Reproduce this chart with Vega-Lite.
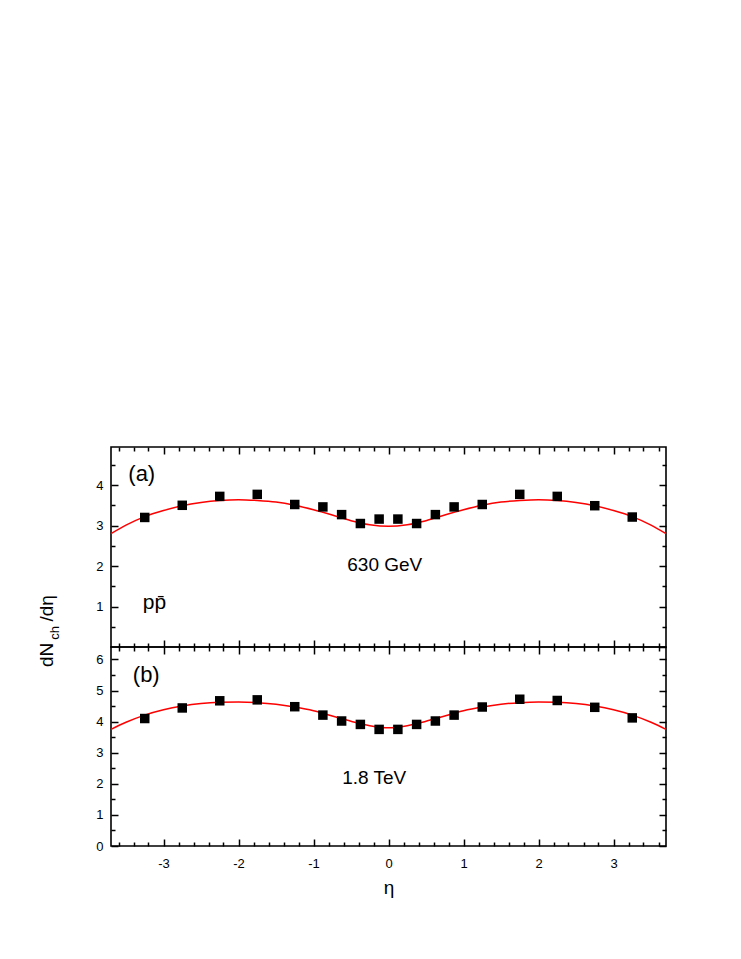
{
  "$schema": "https://vega.github.io/schema/vega-lite/v6.json",
  "background": "white",
  "padding": {"left": 37, "top": 445, "right": 5, "bottom": 5},
  "spacing": 0,
  "bounds": "flush",
  "config": {
    "view": {"stroke": "black", "strokeWidth": 1.6},
    "axis": {"domain": false, "grid": false, "tickColor": "black", "tickWidth": 1.5, "labelColor": "black", "labelFont": "Liberation Sans", "labelFontSize": 13, "titleFont": "Liberation Sans", "titleColor": "black", "titleFontWeight": "normal"},
    "text": {"font": "Liberation Sans", "color": "black"}
  },
  "datasets": {
    "pts": [
      {"panel": "a", "eta": -3.25, "v": 3.20}, {"panel": "a", "eta": -2.75, "v": 3.50}, {"panel": "a", "eta": -2.25, "v": 3.72}, {"panel": "a", "eta": -1.75, "v": 3.77}, {"panel": "a", "eta": -1.25, "v": 3.52}, {"panel": "a", "eta": -0.875, "v": 3.46}, {"panel": "a", "eta": -0.625, "v": 3.27}, {"panel": "a", "eta": -0.375, "v": 3.05}, {"panel": "a", "eta": -0.125, "v": 3.16},
      {"panel": "a", "eta": 0.125, "v": 3.16}, {"panel": "a", "eta": 0.375, "v": 3.05}, {"panel": "a", "eta": 0.625, "v": 3.27}, {"panel": "a", "eta": 0.875, "v": 3.46}, {"panel": "a", "eta": 1.25, "v": 3.52}, {"panel": "a", "eta": 1.75, "v": 3.77}, {"panel": "a", "eta": 2.25, "v": 3.72}, {"panel": "a", "eta": 2.75, "v": 3.49}, {"panel": "a", "eta": 3.25, "v": 3.21},
      {"panel": "b", "eta": -3.25, "v": 4.10}, {"panel": "b", "eta": -2.75, "v": 4.44}, {"panel": "b", "eta": -2.25, "v": 4.67}, {"panel": "b", "eta": -1.75, "v": 4.70}, {"panel": "b", "eta": -1.25, "v": 4.48}, {"panel": "b", "eta": -0.875, "v": 4.21}, {"panel": "b", "eta": -0.625, "v": 4.02}, {"panel": "b", "eta": -0.375, "v": 3.91}, {"panel": "b", "eta": -0.125, "v": 3.75},
      {"panel": "b", "eta": 0.125, "v": 3.75}, {"panel": "b", "eta": 0.375, "v": 3.91}, {"panel": "b", "eta": 0.625, "v": 4.02}, {"panel": "b", "eta": 0.875, "v": 4.21}, {"panel": "b", "eta": 1.25, "v": 4.47}, {"panel": "b", "eta": 1.75, "v": 4.72}, {"panel": "b", "eta": 2.25, "v": 4.68}, {"panel": "b", "eta": 2.75, "v": 4.46}, {"panel": "b", "eta": 3.25, "v": 4.12}
    ],
    "curve": [
      {"panel": "a", "eta": -3.7, "v": 2.80}, {"panel": "a", "eta": -3.5, "v": 3.01}, {"panel": "a", "eta": -3.25, "v": 3.22}, {"panel": "a", "eta": -3.0, "v": 3.37}, {"panel": "a", "eta": -2.75, "v": 3.49}, {"panel": "a", "eta": -2.5, "v": 3.57}, {"panel": "a", "eta": -2.25, "v": 3.62}, {"panel": "a", "eta": -2.0, "v": 3.64}, {"panel": "a", "eta": -1.75, "v": 3.62}, {"panel": "a", "eta": -1.5, "v": 3.58}, {"panel": "a", "eta": -1.25, "v": 3.50}, {"panel": "a", "eta": -1.0, "v": 3.39}, {"panel": "a", "eta": -0.75, "v": 3.26}, {"panel": "a", "eta": -0.5, "v": 3.12}, {"panel": "a", "eta": -0.25, "v": 3.02}, {"panel": "a", "eta": 0, "v": 2.98},
      {"panel": "a", "eta": 0.25, "v": 3.02}, {"panel": "a", "eta": 0.5, "v": 3.12}, {"panel": "a", "eta": 0.75, "v": 3.26}, {"panel": "a", "eta": 1.0, "v": 3.39}, {"panel": "a", "eta": 1.25, "v": 3.50}, {"panel": "a", "eta": 1.5, "v": 3.58}, {"panel": "a", "eta": 1.75, "v": 3.62}, {"panel": "a", "eta": 2.0, "v": 3.64}, {"panel": "a", "eta": 2.25, "v": 3.62}, {"panel": "a", "eta": 2.5, "v": 3.57}, {"panel": "a", "eta": 2.75, "v": 3.49}, {"panel": "a", "eta": 3.0, "v": 3.37}, {"panel": "a", "eta": 3.25, "v": 3.22}, {"panel": "a", "eta": 3.5, "v": 3.01}, {"panel": "a", "eta": 3.7, "v": 2.80},
      {"panel": "b", "eta": -3.7, "v": 3.75}, {"panel": "b", "eta": -3.5, "v": 3.98}, {"panel": "b", "eta": -3.25, "v": 4.21}, {"panel": "b", "eta": -3.0, "v": 4.38}, {"panel": "b", "eta": -2.75, "v": 4.50}, {"panel": "b", "eta": -2.5, "v": 4.58}, {"panel": "b", "eta": -2.25, "v": 4.62}, {"panel": "b", "eta": -2.0, "v": 4.63}, {"panel": "b", "eta": -1.75, "v": 4.61}, {"panel": "b", "eta": -1.5, "v": 4.56}, {"panel": "b", "eta": -1.25, "v": 4.47}, {"panel": "b", "eta": -1.0, "v": 4.35}, {"panel": "b", "eta": -0.75, "v": 4.18}, {"panel": "b", "eta": -0.5, "v": 4.01}, {"panel": "b", "eta": -0.25, "v": 3.87}, {"panel": "b", "eta": 0, "v": 3.80},
      {"panel": "b", "eta": 0.25, "v": 3.87}, {"panel": "b", "eta": 0.5, "v": 4.01}, {"panel": "b", "eta": 0.75, "v": 4.18}, {"panel": "b", "eta": 1.0, "v": 4.35}, {"panel": "b", "eta": 1.25, "v": 4.47}, {"panel": "b", "eta": 1.5, "v": 4.56}, {"panel": "b", "eta": 1.75, "v": 4.61}, {"panel": "b", "eta": 2.0, "v": 4.63}, {"panel": "b", "eta": 2.25, "v": 4.62}, {"panel": "b", "eta": 2.5, "v": 4.58}, {"panel": "b", "eta": 2.75, "v": 4.50}, {"panel": "b", "eta": 3.0, "v": 4.38}, {"panel": "b", "eta": 3.25, "v": 4.21}, {"panel": "b", "eta": 3.5, "v": 3.98}, {"panel": "b", "eta": 3.7, "v": 3.75}
    ]
  },
  "vconcat": [
    {
      "width": 555,
      "height": 200,
      "resolve": {"axis": {"x": "independent", "y": "independent"}},
      "layer": [
        {
          "data": {"name": "curve"},
          "transform": [{"filter": "datum.panel === 'a'"}],
          "mark": {"type": "line", "color": "#ff0000", "strokeWidth": 1.5, "interpolate": "monotone"},
          "encoding": {
            "x": {"field": "eta", "type": "quantitative", "scale": {"domain": [-3.7, 3.7], "nice": false, "zero": false},
                  "axis": {"orient": "top", "title": null, "labels": false, "values": [-3,-2,-1,0,1,2,3], "tickSize": -7}},
            "y": {"field": "v", "type": "quantitative", "scale": {"domain": [0, 4.94], "nice": false, "zero": false},
                  "axis": {"orient": "right", "title": null, "labels": false, "values": [0,1,2,3,4], "tickSize": -7}}
          }
        },
        {
          "data": {"name": "pts"},
          "transform": [{"filter": "datum.panel === 'a'"}],
          "mark": {"type": "point", "shape": "square", "filled": true, "color": "black", "opacity": 1, "size": 90},
          "encoding": {
            "x": {"field": "eta", "type": "quantitative",
                  "axis": {"orient": "bottom", "title": null, "labels": false, "values": [-3,-2,-1,0,1,2,3], "tickSize": -7}},
            "y": {"field": "v", "type": "quantitative",
                  "axis": {"orient": "left", "title": null, "values": [1,2,3,4], "labelFontSize": 13, "labelPadding": 15, "tickSize": -7}}
          }
        },
        {
          "data": {"values": [{"t": "(a)", "eta": -3.29, "v": 4.27}]},
          "mark": {"type": "text", "fontSize": 22, "align": "center", "baseline": "middle"},
          "encoding": {
            "x": {"field": "eta", "type": "quantitative", "axis": {"orient": "top", "title": null, "labels": false, "values": [-3.6,-3.4,-3.2,-2.8,-2.6,-2.4,-2.2,-1.8,-1.6,-1.4,-1.2,-0.8,-0.6,-0.4,-0.2,0.2,0.4,0.6,0.8,1.2,1.4,1.6,1.8,2.2,2.4,2.6,2.8,3.2,3.4,3.6], "tickSize": -4}},
            "y": {"field": "v", "type": "quantitative", "axis": {"orient": "right", "title": null, "labels": false, "values": [0.5,1.5,2.5,3.5,4.5], "tickSize": -4}},
            "text": {"field": "t"}
          }
        },
        {
          "data": {"values": [{"t": "630 GeV", "eta": -0.05, "v": 2.02}]},
          "mark": {"type": "text", "fontSize": 19, "align": "center", "baseline": "middle"},
          "encoding": {
            "x": {"field": "eta", "type": "quantitative", "axis": {"orient": "bottom", "title": null, "labels": false, "values": [-3.6,-3.4,-3.2,-2.8,-2.6,-2.4,-2.2,-1.8,-1.6,-1.4,-1.2,-0.8,-0.6,-0.4,-0.2,0.2,0.4,0.6,0.8,1.2,1.4,1.6,1.8,2.2,2.4,2.6,2.8,3.2,3.4,3.6], "tickSize": -4}},
            "y": {"field": "v", "type": "quantitative", "axis": {"orient": "left", "title": null, "labels": false, "values": [0.5,1.5,2.5,3.5,4.5], "tickSize": -4}},
            "text": {"field": "t"}
          }
        },
        {
          "data": {"values": [{"t": "pp\u0304", "eta": -3.12, "v": 0.93}]},
          "mark": {"type": "text", "fontSize": 21, "align": "center", "baseline": "alphabetic"},
          "encoding": {"x": {"field": "eta", "type": "quantitative", "axis": null}, "y": {"field": "v", "type": "quantitative", "axis": null}, "text": {"field": "t"}}
        },
        {
          "data": {"values": [{"t": "dN", "eta": -4.473, "v": -0.494}, {"t": "/d\u03b7", "eta": -4.473, "v": 0.63}]},
          "mark": {"type": "text", "fontSize": 19, "align": "left", "baseline": "alphabetic", "angle": 270},
          "encoding": {"x": {"field": "eta", "type": "quantitative", "axis": null}, "y": {"field": "v", "type": "quantitative", "axis": null}, "text": {"field": "t"}}
        },
        {
          "data": {"values": [{"t": "ch", "eta": -4.39, "v": 0.18}]},
          "mark": {"type": "text", "fontSize": 13, "align": "left", "baseline": "alphabetic", "angle": 270},
          "encoding": {"x": {"field": "eta", "type": "quantitative", "axis": null}, "y": {"field": "v", "type": "quantitative", "axis": null}, "text": {"field": "t"}}
        }
      ]
    },
    {
      "width": 555,
      "height": 199,
      "resolve": {"axis": {"x": "independent", "y": "independent"}},
      "layer": [
        {
          "data": {"name": "curve"},
          "transform": [{"filter": "datum.panel === 'b'"}],
          "mark": {"type": "line", "color": "#ff0000", "strokeWidth": 1.5, "interpolate": "monotone"},
          "encoding": {
            "x": {"field": "eta", "type": "quantitative", "scale": {"domain": [-3.7, 3.7], "nice": false, "zero": false},
                  "axis": {"orient": "top", "title": null, "labels": false, "values": [-3,-2,-1,0,1,2,3], "tickSize": -7}},
            "y": {"field": "v", "type": "quantitative", "scale": {"domain": [0, 6.4], "nice": false, "zero": false},
                  "axis": {"orient": "right", "title": null, "labels": false, "values": [0,1,2,3,4,5,6], "tickSize": -7}}
          }
        },
        {
          "data": {"name": "pts"},
          "transform": [{"filter": "datum.panel === 'b'"}],
          "mark": {"type": "point", "shape": "square", "filled": true, "color": "black", "opacity": 1, "size": 90},
          "encoding": {
            "x": {"field": "eta", "type": "quantitative",
                  "axis": {"orient": "bottom", "title": "\u03b7", "titleFontSize": 19, "titlePadding": 8, "values": [-3,-2,-1,0,1,2,3],
                           "labelExpr": "'' + datum.value", "labelFontSize": 13, "labelPadding": 18, "tickSize": -7}},
            "y": {"field": "v", "type": "quantitative",
                  "axis": {"orient": "left", "title": null, "values": [0,1,2,3,4,5,6], "labelFontSize": 13, "labelPadding": 15, "tickSize": -7}}
          }
        },
        {
          "data": {"values": [{"t": "(b)", "eta": -3.23, "v": 5.50}]},
          "mark": {"type": "text", "fontSize": 22, "align": "center", "baseline": "middle"},
          "encoding": {
            "x": {"field": "eta", "type": "quantitative", "axis": {"orient": "top", "title": null, "labels": false, "values": [-3.6,-3.4,-3.2,-2.8,-2.6,-2.4,-2.2,-1.8,-1.6,-1.4,-1.2,-0.8,-0.6,-0.4,-0.2,0.2,0.4,0.6,0.8,1.2,1.4,1.6,1.8,2.2,2.4,2.6,2.8,3.2,3.4,3.6], "tickSize": -4}},
            "y": {"field": "v", "type": "quantitative", "axis": {"orient": "right", "title": null, "labels": false, "values": [0.5,1.5,2.5,3.5,4.5,5.5], "tickSize": -4}},
            "text": {"field": "t"}
          }
        },
        {
          "data": {"values": [{"t": "1.8 TeV", "eta": -0.19, "v": 2.19}]},
          "mark": {"type": "text", "fontSize": 19, "align": "center", "baseline": "middle"},
          "encoding": {
            "x": {"field": "eta", "type": "quantitative", "axis": {"orient": "bottom", "title": null, "labels": false, "values": [-3.6,-3.4,-3.2,-2.8,-2.6,-2.4,-2.2,-1.8,-1.6,-1.4,-1.2,-0.8,-0.6,-0.4,-0.2,0.2,0.4,0.6,0.8,1.2,1.4,1.6,1.8,2.2,2.4,2.6,2.8,3.2,3.4,3.6], "tickSize": -4}},
            "y": {"field": "v", "type": "quantitative", "axis": {"orient": "left", "title": null, "labels": false, "values": [0.5,1.5,2.5,3.5,4.5,5.5], "tickSize": -4}},
            "text": {"field": "t"}
          }
        }
      ]
    }
  ]
}
